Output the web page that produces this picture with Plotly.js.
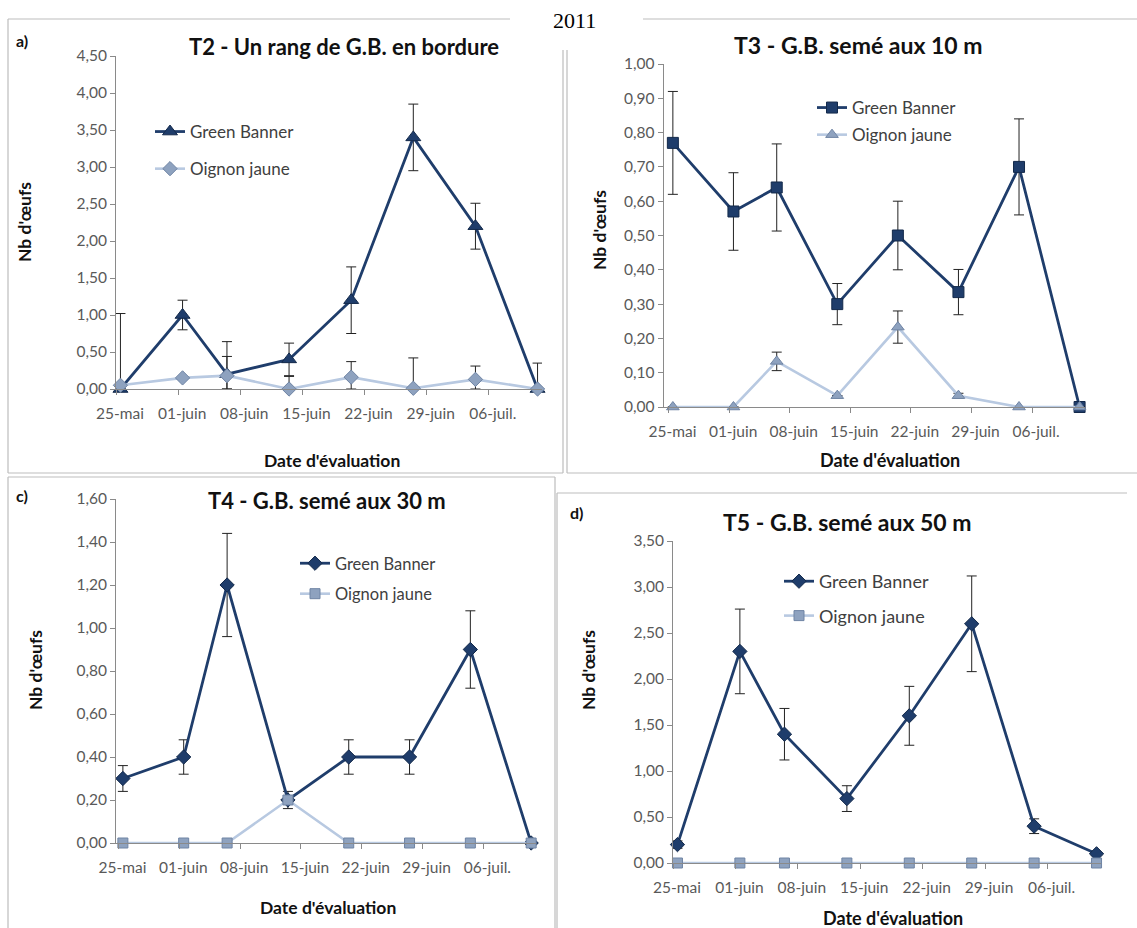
<!DOCTYPE html>
<html>
<head>
<meta charset="utf-8">
<script src="https://cdn.plot.ly/plotly-3.0.1.min.js"></script>
<style>
html,body{margin:0;padding:0;background:#fff;}
#chart{width:1137px;height:928px;}
</style>
</head>
<body>
<div id="chart"></div>
<script>
// ---------- DATA ----------
const sampleDates = ['2011-05-25','2011-06-01','2011-06-06','2011-06-13','2011-06-20','2011-06-27','2011-07-04','2011-07-11'];
const tickDates = ['2011-05-25','2011-06-01','2011-06-08','2011-06-15','2011-06-22','2011-06-29','2011-07-06'];
const tickLabels = ['25-mai','01-juin','08-juin','15-juin','22-juin','29-juin','06-juil.'];
const seriesNames = ['Green Banner','Oignon jaune'];

// a) T2 - Un rang de G.B. en bordure
const t2Green = [0.00, 1.00, 0.20, 0.40, 1.20, 3.40, 2.20, 0.00];
const t2GreenErr = [1.02, 0.20, 0.44, 0.22, 0.45, 0.45, 0.31, 0.35];
const t2Onion = [0.05, 0.15, 0.18, 0.00, 0.16, 0.01, 0.13, 0.00];
const t2OnionErr = [0, 0, 0.26, 0.17, 0.21, 0.41, 0.18, 0];

// b) T3 - G.B. semé aux 10 m
const t3Green = [0.77, 0.57, 0.64, 0.30, 0.50, 0.335, 0.70, 0.00];
const t3GreenErr = [0.15, 0.113, 0.127, 0.06, 0.10, 0.066, 0.14, 0];
const t3Onion = [0.00, 0.00, 0.133, 0.033, 0.233, 0.033, 0.00, 0.00];
const t3OnionErr = [0, 0, 0.027, 0, 0.047, 0.007, 0, 0];

// c) T4 - G.B. semé aux 30 m
const t4Green = [0.30, 0.40, 1.20, 0.20, 0.40, 0.40, 0.90, 0.00];
const t4GreenErr = [0.06, 0.08, 0.24, 0.04, 0.08, 0.08, 0.18, 0];
const t4Onion = [0.00, 0.00, 0.00, 0.20, 0.00, 0.00, 0.00, 0.00];
const t4OnionErr = [0, 0, 0, 0, 0, 0, 0, 0];

// d) T5 - G.B. semé aux 50 m
const t5Green = [0.20, 2.30, 1.40, 0.70, 1.60, 2.60, 0.40, 0.10];
const t5GreenErr = [0.04, 0.46, 0.28, 0.14, 0.32, 0.52, 0.08, 0.02];
const t5Onion = [0.00, 0.00, 0.00, 0.00, 0.00, 0.00, 0.00, 0.00];
const t5OnionErr = [0, 0, 0, 0, 0, 0, 0, 0];

const panelTitles = ['T2 - Un rang de G.B. en bordure','T3 - G.B. semé aux 10 m','T4 - G.B. semé aux 30 m','T5 - G.B. semé aux 50 m'];
const panelLetters = ['a)','','c)','d)'];
const yTitle = "Nb d'œufs";
const xTitle = "Date d'évaluation";
const yearLabel = '2011';

// ---------- STYLE / LAYOUT ----------
const W = 1137, H = 928;
const px = v => v / W;
const py = v => 1 - v / H;
const DARK = '#1f3d6b', LIGHT = '#b8c9e1', LIGHTMK = '#8ea2bf';
const FONT = 'Lato, "Open Sans", sans-serif';

const panels = [
  {g: t2Green, ge: t2GreenErr, o: t2Onion, oe: t2OnionErr, gs: 'triangle-up', os: 'diamond', gsz: 13, osz: 11,
   xd: [116, 542], yd: [56, 389], xr: ['2011-05-25 00:00', '2011-07-12 00:00'], yr: [0, 4.5], dt: 0.5,
   title: [344, 47, 22], leg: [150, 114, 17, 12], yt: [24, 222], xt: [332, 460, 17.5]},
  {g: t3Green, ge: t3GreenErr, o: t3Onion, oe: t3OnionErr, gs: 'square', os: 'triangle-up', gsz: 11, osz: 11,
   xd: [663.5, 1085], yd: [64, 407], xr: ['2011-05-24 10:00', '2011-07-12 03:00'], yr: [0, 1.0], dt: 0.1,
   title: [858, 45, 23], leg: [812, 90, 17, 2], yt: [600, 230], xt: [890, 460, 18]},
  {g: t4Green, ge: t4GreenErr, o: t4Onion, oe: t4OnionErr, gs: 'diamond', os: 'square', gsz: 11, osz: 10,
   xd: [116, 535.5], yd: [499, 843], xr: ['2011-05-24 17:00', '2011-07-12 00:00'], yr: [0, 1.6], dt: 0.2,
   title: [327, 500, 22], leg: [295, 546, 16.5, 6], yt: [35, 670], xt: [328, 907, 17.5]},
  {g: t5Green, ge: t5GreenErr, o: t5Onion, oe: t5OnionErr, gs: 'diamond', os: 'square', gsz: 11, osz: 10,
   xd: [673, 1101], yd: [541, 863], xr: ['2011-05-25 00:00', '2011-07-12 00:00'], yr: [0, 3.5], dt: 0.5,
   title: [847, 522, 23], leg: [779, 563, 18, 8], yt: [588, 670], xt: [893, 918, 18]}
];

const xNoon = sampleDates.map(d => d + ' 12:00');
const clipMinus = (vals, errs) => errs.map((e, i) => Math.min(e, vals[i]));

const data = [];
const layout = {
  width: W, height: H,
  margin: {l: 0, r: 0, t: 0, b: 0},
  paper_bgcolor: '#fff', plot_bgcolor: '#fff',
  separators: ', ',
  font: {family: FONT, color: '#595959'},
  showlegend: true,
  annotations: [], shapes: []
};

panels.forEach((p, i) => {
  const n = i + 1;
  const xa = 'x' + (n === 1 ? '' : n), ya = 'y' + (n === 1 ? '' : n);
  const legName = 'legend' + (n === 1 ? '' : n);
  data.push({
    type: 'scatter', mode: 'lines+markers', name: seriesNames[0], x: xNoon, y: p.g,
    xaxis: xa, yaxis: ya, legend: legName, legendgroup: 'g' + n,
    line: {color: DARK, width: 2.8},
    marker: {symbol: p.gs, size: p.gsz, color: DARK, line: {color: '#13294a', width: 1}},
    error_y: {type: 'data', symmetric: false, array: p.ge, arrayminus: clipMinus(p.g, p.ge),
              color: '#222', thickness: 1, width: 5},
    cliponaxis: false
  });
  data.push({
    type: 'scatter', mode: 'lines+markers', name: seriesNames[1], x: xNoon, y: p.o,
    xaxis: xa, yaxis: ya, legend: legName, legendgroup: 'o' + n,
    line: {color: LIGHT, width: 2.6},
    marker: {symbol: p.os, size: p.osz, color: LIGHTMK, line: {color: '#6f84a4', width: 1}},
    error_y: {type: 'data', symmetric: false, array: p.oe, arrayminus: clipMinus(p.o, p.oe),
              color: '#222', thickness: 1, width: 5},
    cliponaxis: false
  });

  layout['xaxis' + (n === 1 ? '' : n)] = {
    type: 'date', domain: [px(p.xd[0]), px(p.xd[1])], anchor: ya, range: p.xr,
    tickmode: 'array', tickvals: tickDates, ticktext: tickLabels,
    ticks: 'outside', ticklen: 5, tickcolor: '#8a8a8a', tickwidth: 1,
    showline: true, linecolor: '#8a8a8a', linewidth: 1, showgrid: false, zeroline: false,
    tickfont: {family: FONT, size: 15.5, color: '#595959'},
    ticklabelshift: 4, ticklabelstandoff: 5, fixedrange: true
  };
  layout['yaxis' + (n === 1 ? '' : n)] = {
    domain: [py(p.yd[1]), py(p.yd[0])], anchor: xa, range: p.yr, dtick: p.dt, tick0: 0,
    tickformat: '.2f', ticks: 'outside', ticklen: 5, tickcolor: '#8a8a8a', tickwidth: 1,
    showline: true, linecolor: '#8a8a8a', linewidth: 1, showgrid: false, zeroline: false,
    tickfont: {family: FONT, size: 15.5, color: '#595959'}, fixedrange: true
  };
  layout[legName] = {
    x: px(p.leg[0]), y: py(p.leg[1]), xanchor: 'left', yanchor: 'top',
    bgcolor: 'rgba(0,0,0,0)', borderwidth: 0,
    font: {family: FONT, size: p.leg[2], color: '#404040'},
    traceorder: 'grouped', tracegroupgap: p.leg[3], itemwidth: 30
  };
  layout.annotations.push({
    text: '<b>' + panelTitles[i] + '</b>', xref: 'paper', yref: 'paper',
    x: px(p.title[0]), y: py(p.title[1]), xanchor: 'center', yanchor: 'middle', showarrow: false,
    font: {family: FONT, size: p.title[2], color: '#111'}
  });
  layout.annotations.push({
    text: '<b>' + yTitle + '</b>', xref: 'paper', yref: 'paper', textangle: -90,
    x: px(p.yt[0]), y: py(p.yt[1]), xanchor: 'center', yanchor: 'middle', showarrow: false,
    font: {family: FONT, size: 17.5, color: '#111'}
  });
  layout.annotations.push({
    text: '<b>' + xTitle + '</b>', xref: 'paper', yref: 'paper',
    x: px(p.xt[0]), y: py(p.xt[1]), xanchor: 'center', yanchor: 'middle', showarrow: false,
    font: {family: FONT, size: p.xt[2], color: '#111'}
  });
});

// panel letters
[[22, 40, 0], [22, 496, 2], [576, 512, 3]].forEach(([x, y, k]) => {
  layout.annotations.push({
    text: '<b>' + panelLetters[k] + '</b>', xref: 'paper', yref: 'paper',
    x: px(x), y: py(y), xanchor: 'center', yanchor: 'middle', showarrow: false,
    font: {family: FONT, size: 16, color: '#111'}
  });
});
layout.annotations.push({
  text: yearLabel, xref: 'paper', yref: 'paper', x: px(574), y: py(20),
  xanchor: 'center', yanchor: 'middle', showarrow: false,
  font: {family: '"Liberation Serif", "DejaVu Serif", serif', size: 22, color: '#000'}
});

// panel frames
const FR = '#bdbdbd';
const seg = (x0, y0, x1, y1) => layout.shapes.push({
  type: 'line', xref: 'paper', yref: 'paper', x0: px(x0), y0: py(y0), x1: px(x1), y1: py(y1),
  line: {color: FR, width: 1.2}
});
seg(8, 19, 510, 19); seg(643, 19, 1137, 19);
seg(8, 19, 8, 473); seg(8, 473, 563, 473); seg(563, 50, 563, 473);
seg(567, 50, 567, 473); seg(567, 473, 1137, 473);
seg(8, 477, 555, 477); seg(8, 477, 8, 928); seg(555, 477, 555, 928);
seg(557, 493, 1127, 493); seg(557, 493, 557, 928);

Plotly.newPlot('chart', data, layout, {staticPlot: true, displayModeBar: false});
</script>
</body>
</html>
